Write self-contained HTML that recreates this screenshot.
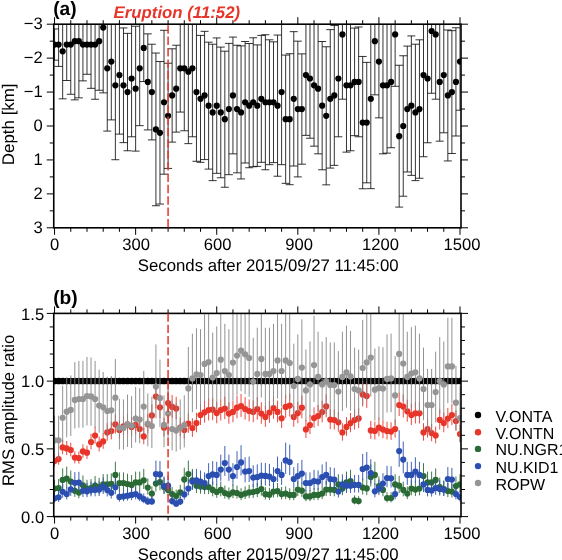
<!DOCTYPE html>
<html lang="en"><head><meta charset="utf-8"><title>Figure</title>
<style>html,body{margin:0;padding:0;background:#fff}svg{display:block}</style></head>
<body>
<svg width="562" height="560" viewBox="0 0 562 560" style="display:block;will-change:transform" font-family="'Liberation Sans', Arial, Helvetica, sans-serif" text-rendering="geometricPrecision">
<rect width="562" height="560" fill="#fff"/>
<defs><clipPath id="cA"><rect x="53.75" y="24.2" width="407.25" height="203.60000000000002"/></clipPath><clipPath id="cB"><rect x="53.75" y="313.4" width="407.25" height="203.20000000000005"/></clipPath></defs>
<g id="panelA">
<g clip-path="url(#cA)" stroke="#000" stroke-width="0.8" fill="none">
<path d="M54.55 28.95V60.17M50.55 60.17h8M50.55 28.95h8"/>
<path d="M58.60 24.20V66.41M54.60 66.41h8"/>
<path d="M62.66 24.20V98.85M58.66 98.85h8"/>
<path d="M66.71 24.20V80.50M62.71 80.50h8"/>
<path d="M70.77 24.20V94.27M66.77 94.27h8"/>
<path d="M74.82 24.20V99.87M70.82 99.87h8"/>
<path d="M78.88 24.20V97.84M74.88 97.84h8"/>
<path d="M82.93 24.20V80.87M78.93 80.87h8"/>
<path d="M86.99 24.20V74.29M82.99 74.29h8"/>
<path d="M91.04 24.20V88.33M87.04 88.33h8"/>
<path d="M95.09 24.20V99.26M91.09 99.26h8"/>
<path d="M99.15 24.20V90.27M95.15 90.27h8"/>
<path d="M103.20 24.20V92.88M99.20 92.88h8"/>
<path d="M107.26 24.20V131.09M103.26 131.09h8"/>
<path d="M111.31 24.20V119.89M107.31 119.89h8"/>
<path d="M115.37 24.20V159.73M111.37 159.73h8"/>
<path d="M119.42 24.20V134.14M115.42 134.14h8"/>
<path d="M123.48 27.93V142.63M119.48 142.63h8M119.48 27.93h8"/>
<path d="M127.53 33.36V150.77M123.53 150.77h8M123.53 33.36h8"/>
<path d="M131.59 24.20V136.79M127.59 136.79h8"/>
<path d="M135.64 26.24V151.11M131.64 151.11h8M131.64 26.24h8"/>
<path d="M139.69 24.20V125.66M135.69 125.66h8"/>
<path d="M143.75 24.20V81.55M139.75 81.55h8"/>
<path d="M147.80 33.87V129.90M143.80 129.90h8M143.80 33.87h8"/>
<path d="M151.86 44.22V139.91M147.86 139.91h8M147.86 44.22h8"/>
<path d="M155.91 53.04V205.74M151.91 205.74h8M151.91 53.04h8"/>
<path d="M159.97 61.53V204.05M155.97 204.05h8M155.97 61.53h8"/>
<path d="M164.02 30.31V174.19M160.02 174.19h8M160.02 30.31h8"/>
<path d="M168.08 63.22V168.42M164.08 168.42h8M164.08 63.22h8"/>
<path d="M172.13 48.80V142.12M168.13 142.12h8M168.13 48.80h8"/>
<path d="M176.19 45.24V132.11M172.19 132.11h8M172.19 45.24h8"/>
<path d="M180.24 24.54V112.09M176.24 112.09h8M176.24 24.54h8"/>
<path d="M184.29 24.20V130.75M180.29 130.75h8"/>
<path d="M188.35 24.20V143.65M184.35 143.65h8"/>
<path d="M192.40 24.20V136.79M188.40 136.79h8"/>
<path d="M196.46 24.20V161.29M192.46 161.29h8"/>
<path d="M200.51 35.40V162.31M196.51 162.31h8M196.51 35.40h8"/>
<path d="M204.57 31.33V159.59M200.57 159.59h8M200.57 31.33h8"/>
<path d="M208.62 42.18V169.10M204.62 169.10h8M204.62 42.18h8"/>
<path d="M212.68 44.22V180.63M208.68 180.63h8M208.68 44.22h8"/>
<path d="M216.73 37.94V173.34M212.73 173.34h8M212.73 37.94h8"/>
<path d="M220.78 47.10V177.75M216.78 177.75h8M216.78 47.10h8"/>
<path d="M224.84 51.18V187.25M220.84 187.25h8M220.84 51.18h8"/>
<path d="M228.89 43.37V174.69M224.89 174.69h8M224.89 43.37h8"/>
<path d="M232.95 37.09V153.83M228.95 153.83h8M228.95 37.09h8"/>
<path d="M237.00 45.24V172.83M233.00 172.83h8M233.00 45.24h8"/>
<path d="M241.06 45.92V178.94M237.06 178.94h8M237.06 45.92h8"/>
<path d="M245.11 41.51V162.99M241.11 162.99h8M241.11 41.51h8"/>
<path d="M249.17 43.54V167.74M245.17 167.74h8M245.17 43.54h8"/>
<path d="M253.22 37.77V166.72M249.22 166.72h8M249.22 37.77h8"/>
<path d="M257.27 44.90V166.38M253.27 166.38h8M253.27 44.90h8"/>
<path d="M261.33 35.40V162.31M257.33 162.31h8M257.33 35.40h8"/>
<path d="M265.38 34.72V169.77M261.38 169.77h8M261.38 34.72h8"/>
<path d="M269.44 39.81V164.68M265.44 164.68h8M265.44 39.81h8"/>
<path d="M273.49 41.85V162.65M269.49 162.65h8M269.49 41.85h8"/>
<path d="M277.55 35.06V176.22M273.55 176.22h8M273.55 35.06h8"/>
<path d="M281.60 24.20V164.68M277.60 164.68h8"/>
<path d="M285.66 55.08V183.35M281.66 183.35h8M281.66 55.08h8"/>
<path d="M289.71 53.72V184.70M285.71 184.70h8M285.71 53.72h8"/>
<path d="M293.77 31.67V166.04M289.77 166.04h8M289.77 31.67h8"/>
<path d="M297.82 41.17V176.90M293.82 176.90h8M293.82 41.17h8"/>
<path d="M301.87 53.89V164.18M297.87 164.18h8M297.87 53.89h8"/>
<path d="M305.93 24.20V135.37M301.93 135.37h8"/>
<path d="M309.98 24.20V138.22M305.98 138.22h8"/>
<path d="M314.04 24.40V146.16M310.04 146.16h8M310.04 24.40h8"/>
<path d="M318.09 24.20V153.83M314.09 153.83h8"/>
<path d="M322.15 41.51V169.77M318.15 169.77h8M318.15 41.51h8"/>
<path d="M326.20 46.77V184.87M322.20 184.87h8M322.20 46.77h8"/>
<path d="M330.26 29.63V168.08M326.26 168.08h8M326.26 29.63h8"/>
<path d="M334.31 25.56V165.36M330.31 165.36h8M330.31 25.56h8"/>
<path d="M338.37 24.20V136.79M334.37 136.79h8"/>
<path d="M342.42 24.20V99.19M338.42 99.19h8"/>
<path d="M346.47 24.20V152.13M342.47 152.13h8"/>
<path d="M350.53 24.20V150.77M346.53 150.77h8"/>
<path d="M354.58 28.10V135.67M350.58 135.67h8M350.58 28.10h8"/>
<path d="M358.64 26.98V136.79M354.64 136.79h8M354.64 26.98h8"/>
<path d="M362.69 56.44V188.78M358.69 188.78h8M358.69 56.44h8"/>
<path d="M366.75 62.38V182.84M362.75 182.84h8M362.75 62.38h8"/>
<path d="M370.80 24.20V188.67M366.80 188.67h8"/>
<path d="M374.86 24.20V94.85M370.86 94.85h8"/>
<path d="M378.91 24.20V117.86M374.91 117.86h8"/>
<path d="M382.96 24.20V153.83M378.96 153.83h8"/>
<path d="M387.02 24.20V153.15M383.02 153.15h8"/>
<path d="M391.07 24.20V147.72M387.07 147.72h8"/>
<path d="M395.13 24.20V86.30M391.13 86.30h8"/>
<path d="M399.18 65.26V207.10M395.18 207.10h8M395.18 65.26h8"/>
<path d="M403.24 55.76V196.24M399.24 196.24h8M399.24 55.76h8"/>
<path d="M407.29 46.09V171.98M403.29 171.98h8M403.29 46.09h8"/>
<path d="M411.35 35.91V175.37M407.35 175.37h8M407.35 35.91h8"/>
<path d="M415.40 44.22V180.63M411.40 180.63h8M411.40 44.22h8"/>
<path d="M419.45 39.81V178.26M415.45 178.26h8M415.45 39.81h8"/>
<path d="M423.51 24.20V156.74M419.51 156.74h8"/>
<path d="M427.56 24.20V142.76M423.56 142.76h8"/>
<path d="M431.62 24.20V93.25M427.62 93.25h8"/>
<path d="M435.67 24.20V99.19M431.67 99.19h8"/>
<path d="M439.73 24.20V141.17M435.73 141.17h8"/>
<path d="M443.78 24.20V132.79M439.78 132.79h8"/>
<path d="M447.84 29.97V160.95M443.84 160.95h8M443.84 29.97h8"/>
<path d="M451.89 30.65V153.49M447.89 153.49h8M447.89 30.65h8"/>
<path d="M455.95 27.76V136.01M451.95 136.01h8M451.95 27.76h8"/>
<path d="M460.00 24.20V110.22M456.00 110.22h8"/>
</g>
<g clip-path="url(#cA)">
<circle cx="54.55" cy="44.56" r="3.1"/>
<circle cx="58.60" cy="44.56" r="3.1"/>
<circle cx="62.66" cy="51.35" r="3.1"/>
<circle cx="66.71" cy="44.56" r="3.1"/>
<circle cx="70.77" cy="44.56" r="3.1"/>
<circle cx="74.82" cy="41.17" r="3.1"/>
<circle cx="78.88" cy="41.17" r="3.1"/>
<circle cx="82.93" cy="44.56" r="3.1"/>
<circle cx="86.99" cy="44.56" r="3.1"/>
<circle cx="91.04" cy="44.56" r="3.1"/>
<circle cx="95.09" cy="44.56" r="3.1"/>
<circle cx="99.15" cy="41.17" r="3.1"/>
<circle cx="103.20" cy="27.59" r="3.1"/>
<circle cx="107.26" cy="68.31" r="3.1"/>
<circle cx="111.31" cy="61.53" r="3.1"/>
<circle cx="115.37" cy="85.28" r="3.1"/>
<circle cx="119.42" cy="75.10" r="3.1"/>
<circle cx="123.48" cy="85.28" r="3.1"/>
<circle cx="127.53" cy="92.07" r="3.1"/>
<circle cx="131.59" cy="78.49" r="3.1"/>
<circle cx="135.64" cy="88.67" r="3.1"/>
<circle cx="139.69" cy="68.31" r="3.1"/>
<circle cx="143.75" cy="47.95" r="3.1"/>
<circle cx="147.80" cy="81.89" r="3.1"/>
<circle cx="151.86" cy="92.07" r="3.1"/>
<circle cx="155.91" cy="129.39" r="3.1"/>
<circle cx="159.97" cy="132.79" r="3.1"/>
<circle cx="164.02" cy="102.25" r="3.1"/>
<circle cx="168.08" cy="115.82" r="3.1"/>
<circle cx="172.13" cy="95.46" r="3.1"/>
<circle cx="176.19" cy="88.67" r="3.1"/>
<circle cx="180.24" cy="68.31" r="3.1"/>
<circle cx="184.29" cy="68.31" r="3.1"/>
<circle cx="188.35" cy="71.71" r="3.1"/>
<circle cx="192.40" cy="68.31" r="3.1"/>
<circle cx="196.46" cy="92.07" r="3.1"/>
<circle cx="200.51" cy="98.85" r="3.1"/>
<circle cx="204.57" cy="95.46" r="3.1"/>
<circle cx="208.62" cy="105.64" r="3.1"/>
<circle cx="212.68" cy="112.43" r="3.1"/>
<circle cx="216.73" cy="105.64" r="3.1"/>
<circle cx="220.78" cy="112.43" r="3.1"/>
<circle cx="224.84" cy="119.21" r="3.1"/>
<circle cx="228.89" cy="109.03" r="3.1"/>
<circle cx="232.95" cy="95.46" r="3.1"/>
<circle cx="237.00" cy="109.03" r="3.1"/>
<circle cx="241.06" cy="112.43" r="3.1"/>
<circle cx="245.11" cy="102.25" r="3.1"/>
<circle cx="249.17" cy="105.64" r="3.1"/>
<circle cx="253.22" cy="102.25" r="3.1"/>
<circle cx="257.27" cy="105.64" r="3.1"/>
<circle cx="261.33" cy="98.85" r="3.1"/>
<circle cx="265.38" cy="102.25" r="3.1"/>
<circle cx="269.44" cy="102.25" r="3.1"/>
<circle cx="273.49" cy="102.25" r="3.1"/>
<circle cx="277.55" cy="105.64" r="3.1"/>
<circle cx="281.60" cy="92.07" r="3.1"/>
<circle cx="285.66" cy="119.21" r="3.1"/>
<circle cx="289.71" cy="119.21" r="3.1"/>
<circle cx="293.77" cy="98.85" r="3.1"/>
<circle cx="297.82" cy="109.03" r="3.1"/>
<circle cx="301.87" cy="109.03" r="3.1"/>
<circle cx="305.93" cy="75.10" r="3.1"/>
<circle cx="309.98" cy="78.49" r="3.1"/>
<circle cx="314.04" cy="85.28" r="3.1"/>
<circle cx="318.09" cy="88.67" r="3.1"/>
<circle cx="322.15" cy="105.64" r="3.1"/>
<circle cx="326.20" cy="115.82" r="3.1"/>
<circle cx="330.26" cy="98.85" r="3.1"/>
<circle cx="334.31" cy="95.46" r="3.1"/>
<circle cx="338.37" cy="78.49" r="3.1"/>
<circle cx="342.42" cy="34.38" r="3.1"/>
<circle cx="346.47" cy="85.28" r="3.1"/>
<circle cx="350.53" cy="85.28" r="3.1"/>
<circle cx="354.58" cy="81.89" r="3.1"/>
<circle cx="358.64" cy="81.89" r="3.1"/>
<circle cx="362.69" cy="122.61" r="3.1"/>
<circle cx="366.75" cy="122.61" r="3.1"/>
<circle cx="370.80" cy="98.85" r="3.1"/>
<circle cx="374.86" cy="41.17" r="3.1"/>
<circle cx="378.91" cy="61.53" r="3.1"/>
<circle cx="382.96" cy="85.28" r="3.1"/>
<circle cx="387.02" cy="85.28" r="3.1"/>
<circle cx="391.07" cy="81.89" r="3.1"/>
<circle cx="395.13" cy="34.38" r="3.1"/>
<circle cx="399.18" cy="136.18" r="3.1"/>
<circle cx="403.24" cy="126.00" r="3.1"/>
<circle cx="407.29" cy="109.03" r="3.1"/>
<circle cx="411.35" cy="105.64" r="3.1"/>
<circle cx="415.40" cy="112.43" r="3.1"/>
<circle cx="419.45" cy="109.03" r="3.1"/>
<circle cx="423.51" cy="75.10" r="3.1"/>
<circle cx="427.56" cy="78.49" r="3.1"/>
<circle cx="431.62" cy="30.99" r="3.1"/>
<circle cx="435.67" cy="34.38" r="3.1"/>
<circle cx="439.73" cy="81.89" r="3.1"/>
<circle cx="443.78" cy="75.10" r="3.1"/>
<circle cx="447.84" cy="95.46" r="3.1"/>
<circle cx="451.89" cy="92.07" r="3.1"/>
<circle cx="455.95" cy="81.89" r="3.1"/>
<circle cx="460.00" cy="61.53" r="3.1"/>
</g>
<path d="M54.55 227.8v7M54.55 24.2v-7" stroke="#000" stroke-width="1"/>
<path d="M70.77 227.8v4.0M70.77 24.2v-4.0" stroke="#000" stroke-width="1"/>
<path d="M86.99 227.8v4.0M86.99 24.2v-4.0" stroke="#000" stroke-width="1"/>
<path d="M103.20 227.8v4.0M103.20 24.2v-4.0" stroke="#000" stroke-width="1"/>
<path d="M119.42 227.8v4.0M119.42 24.2v-4.0" stroke="#000" stroke-width="1"/>
<path d="M135.64 227.8v7M135.64 24.2v-7" stroke="#000" stroke-width="1"/>
<path d="M151.86 227.8v4.0M151.86 24.2v-4.0" stroke="#000" stroke-width="1"/>
<path d="M168.08 227.8v4.0M168.08 24.2v-4.0" stroke="#000" stroke-width="1"/>
<path d="M184.29 227.8v4.0M184.29 24.2v-4.0" stroke="#000" stroke-width="1"/>
<path d="M200.51 227.8v4.0M200.51 24.2v-4.0" stroke="#000" stroke-width="1"/>
<path d="M216.73 227.8v7M216.73 24.2v-7" stroke="#000" stroke-width="1"/>
<path d="M232.95 227.8v4.0M232.95 24.2v-4.0" stroke="#000" stroke-width="1"/>
<path d="M249.17 227.8v4.0M249.17 24.2v-4.0" stroke="#000" stroke-width="1"/>
<path d="M265.38 227.8v4.0M265.38 24.2v-4.0" stroke="#000" stroke-width="1"/>
<path d="M281.60 227.8v4.0M281.60 24.2v-4.0" stroke="#000" stroke-width="1"/>
<path d="M297.82 227.8v7M297.82 24.2v-7" stroke="#000" stroke-width="1"/>
<path d="M314.04 227.8v4.0M314.04 24.2v-4.0" stroke="#000" stroke-width="1"/>
<path d="M330.26 227.8v4.0M330.26 24.2v-4.0" stroke="#000" stroke-width="1"/>
<path d="M346.47 227.8v4.0M346.47 24.2v-4.0" stroke="#000" stroke-width="1"/>
<path d="M362.69 227.8v4.0M362.69 24.2v-4.0" stroke="#000" stroke-width="1"/>
<path d="M378.91 227.8v7M378.91 24.2v-7" stroke="#000" stroke-width="1"/>
<path d="M395.13 227.8v4.0M395.13 24.2v-4.0" stroke="#000" stroke-width="1"/>
<path d="M411.35 227.8v4.0M411.35 24.2v-4.0" stroke="#000" stroke-width="1"/>
<path d="M427.56 227.8v4.0M427.56 24.2v-4.0" stroke="#000" stroke-width="1"/>
<path d="M443.78 227.8v4.0M443.78 24.2v-4.0" stroke="#000" stroke-width="1"/>
<path d="M460.00 227.8v7M460.00 24.2v-7" stroke="#000" stroke-width="1"/>
<path d="M53.75 41.17h-4M461.0 41.17h4" stroke="#000" stroke-width="1"/>
<path d="M53.75 75.10h-4M461.0 75.10h4" stroke="#000" stroke-width="1"/>
<path d="M53.75 109.03h-4M461.0 109.03h4" stroke="#000" stroke-width="1"/>
<path d="M53.75 142.97h-4M461.0 142.97h4" stroke="#000" stroke-width="1"/>
<path d="M53.75 176.90h-4M461.0 176.90h4" stroke="#000" stroke-width="1"/>
<path d="M53.75 210.83h-4M461.0 210.83h4" stroke="#000" stroke-width="1"/>
<path d="M53.75 24.20h-7M461.0 24.20h7" stroke="#000" stroke-width="1"/>
<text x="42.75" y="29.40" font-size="16.6" text-anchor="end">−3</text>
<path d="M53.75 58.13h-7M461.0 58.13h7" stroke="#000" stroke-width="1"/>
<text x="42.75" y="63.33" font-size="16.6" text-anchor="end">−2</text>
<path d="M53.75 92.07h-7M461.0 92.07h7" stroke="#000" stroke-width="1"/>
<text x="42.75" y="97.27" font-size="16.6" text-anchor="end">−1</text>
<path d="M53.75 126.00h-7M461.0 126.00h7" stroke="#000" stroke-width="1"/>
<text x="42.75" y="131.20" font-size="16.6" text-anchor="end">0</text>
<path d="M53.75 159.93h-7M461.0 159.93h7" stroke="#000" stroke-width="1"/>
<text x="42.75" y="165.13" font-size="16.6" text-anchor="end">1</text>
<path d="M53.75 193.87h-7M461.0 193.87h7" stroke="#000" stroke-width="1"/>
<text x="42.75" y="199.07" font-size="16.6" text-anchor="end">2</text>
<path d="M53.75 227.80h-7M461.0 227.80h7" stroke="#000" stroke-width="1"/>
<text x="42.75" y="233.00" font-size="16.6" text-anchor="end">3</text>
<text x="54.60" y="249.80" font-size="16.6" text-anchor="middle">0</text>
<text x="136.09" y="249.80" font-size="16.6" text-anchor="middle">300</text>
<text x="217.59" y="249.80" font-size="16.6" text-anchor="middle">600</text>
<text x="299.08" y="249.80" font-size="16.6" text-anchor="middle">900</text>
<text x="380.58" y="249.80" font-size="16.6" text-anchor="middle">1200</text>
<text x="462.07" y="249.80" font-size="16.6" text-anchor="middle">1500</text>
<rect x="53.75" y="24.2" width="407.25" height="203.60000000000002" fill="none" stroke="#000" stroke-width="1.6"/>
<path d="M168.08 24.2V227.8" stroke="#e8352a" stroke-width="1.5" stroke-dasharray="8.5 2.9" stroke-dashoffset="-1" fill="none"/>
<text x="53.2" y="14.6" font-size="19.2" font-weight="bold">(a)</text>
<text x="113.6" y="17.9" font-size="16.8" font-weight="bold" font-style="italic" fill="#e8352a">Eruption (11:52)</text>
<text x="268.2" y="270.70" font-size="16.8" text-anchor="middle">Seconds after 2015/09/27 11:45:00</text>
<text transform="translate(14.2 124.3) rotate(-90)" font-size="16.9" text-anchor="middle">Depth [km]</text>
</g>
<g id="panelB">
<g clip-path="url(#cB)">
<g fill="#000000" stroke="#000000" stroke-width="0.9">
<circle cx="54.55" cy="381.00" r="3.35" stroke="none"/>
<circle cx="58.60" cy="381.00" r="3.35" stroke="none"/>
<circle cx="62.66" cy="381.00" r="3.35" stroke="none"/>
<circle cx="66.71" cy="381.00" r="3.35" stroke="none"/>
<circle cx="70.77" cy="381.00" r="3.35" stroke="none"/>
<circle cx="74.82" cy="381.00" r="3.35" stroke="none"/>
<circle cx="78.88" cy="381.00" r="3.35" stroke="none"/>
<circle cx="82.93" cy="381.00" r="3.35" stroke="none"/>
<circle cx="86.99" cy="381.00" r="3.35" stroke="none"/>
<circle cx="91.04" cy="381.00" r="3.35" stroke="none"/>
<circle cx="95.09" cy="381.00" r="3.35" stroke="none"/>
<circle cx="99.15" cy="381.00" r="3.35" stroke="none"/>
<circle cx="103.20" cy="381.00" r="3.35" stroke="none"/>
<circle cx="107.26" cy="381.00" r="3.35" stroke="none"/>
<circle cx="111.31" cy="381.00" r="3.35" stroke="none"/>
<circle cx="115.37" cy="381.00" r="3.35" stroke="none"/>
<circle cx="119.42" cy="381.00" r="3.35" stroke="none"/>
<circle cx="123.48" cy="381.00" r="3.35" stroke="none"/>
<circle cx="127.53" cy="381.00" r="3.35" stroke="none"/>
<circle cx="131.59" cy="381.00" r="3.35" stroke="none"/>
<circle cx="135.64" cy="381.00" r="3.35" stroke="none"/>
<circle cx="139.69" cy="381.00" r="3.35" stroke="none"/>
<circle cx="143.75" cy="381.00" r="3.35" stroke="none"/>
<circle cx="147.80" cy="381.00" r="3.35" stroke="none"/>
<circle cx="151.86" cy="381.00" r="3.35" stroke="none"/>
<circle cx="155.91" cy="381.00" r="3.35" stroke="none"/>
<circle cx="159.97" cy="381.00" r="3.35" stroke="none"/>
<circle cx="164.02" cy="381.00" r="3.35" stroke="none"/>
<circle cx="168.08" cy="381.00" r="3.35" stroke="none"/>
<circle cx="172.13" cy="381.00" r="3.35" stroke="none"/>
<circle cx="176.19" cy="381.00" r="3.35" stroke="none"/>
<circle cx="180.24" cy="381.00" r="3.35" stroke="none"/>
<circle cx="184.29" cy="381.00" r="3.35" stroke="none"/>
<circle cx="188.35" cy="381.00" r="3.35" stroke="none"/>
<circle cx="192.40" cy="381.00" r="3.35" stroke="none"/>
<circle cx="196.46" cy="381.00" r="3.35" stroke="none"/>
<circle cx="200.51" cy="381.00" r="3.35" stroke="none"/>
<circle cx="204.57" cy="381.00" r="3.35" stroke="none"/>
<circle cx="208.62" cy="381.00" r="3.35" stroke="none"/>
<circle cx="212.68" cy="381.00" r="3.35" stroke="none"/>
<circle cx="216.73" cy="381.00" r="3.35" stroke="none"/>
<circle cx="220.78" cy="381.00" r="3.35" stroke="none"/>
<circle cx="224.84" cy="381.00" r="3.35" stroke="none"/>
<circle cx="228.89" cy="381.00" r="3.35" stroke="none"/>
<circle cx="232.95" cy="381.00" r="3.35" stroke="none"/>
<circle cx="237.00" cy="381.00" r="3.35" stroke="none"/>
<circle cx="241.06" cy="381.00" r="3.35" stroke="none"/>
<circle cx="245.11" cy="381.00" r="3.35" stroke="none"/>
<circle cx="249.17" cy="381.00" r="3.35" stroke="none"/>
<circle cx="253.22" cy="381.00" r="3.35" stroke="none"/>
<circle cx="257.27" cy="381.00" r="3.35" stroke="none"/>
<circle cx="261.33" cy="381.00" r="3.35" stroke="none"/>
<circle cx="265.38" cy="381.00" r="3.35" stroke="none"/>
<circle cx="269.44" cy="381.00" r="3.35" stroke="none"/>
<circle cx="273.49" cy="381.00" r="3.35" stroke="none"/>
<circle cx="277.55" cy="381.00" r="3.35" stroke="none"/>
<circle cx="281.60" cy="381.00" r="3.35" stroke="none"/>
<circle cx="285.66" cy="381.00" r="3.35" stroke="none"/>
<circle cx="289.71" cy="381.00" r="3.35" stroke="none"/>
<circle cx="293.77" cy="381.00" r="3.35" stroke="none"/>
<circle cx="297.82" cy="381.00" r="3.35" stroke="none"/>
<circle cx="301.87" cy="381.00" r="3.35" stroke="none"/>
<circle cx="305.93" cy="381.00" r="3.35" stroke="none"/>
<circle cx="309.98" cy="381.00" r="3.35" stroke="none"/>
<circle cx="314.04" cy="381.00" r="3.35" stroke="none"/>
<circle cx="318.09" cy="381.00" r="3.35" stroke="none"/>
<circle cx="322.15" cy="381.00" r="3.35" stroke="none"/>
<circle cx="326.20" cy="381.00" r="3.35" stroke="none"/>
<circle cx="330.26" cy="381.00" r="3.35" stroke="none"/>
<circle cx="334.31" cy="381.00" r="3.35" stroke="none"/>
<circle cx="338.37" cy="381.00" r="3.35" stroke="none"/>
<circle cx="342.42" cy="381.00" r="3.35" stroke="none"/>
<circle cx="346.47" cy="381.00" r="3.35" stroke="none"/>
<circle cx="350.53" cy="381.00" r="3.35" stroke="none"/>
<circle cx="354.58" cy="381.00" r="3.35" stroke="none"/>
<circle cx="358.64" cy="381.00" r="3.35" stroke="none"/>
<circle cx="362.69" cy="381.00" r="3.35" stroke="none"/>
<circle cx="366.75" cy="381.00" r="3.35" stroke="none"/>
<circle cx="370.80" cy="381.00" r="3.35" stroke="none"/>
<circle cx="374.86" cy="381.00" r="3.35" stroke="none"/>
<circle cx="378.91" cy="381.00" r="3.35" stroke="none"/>
<circle cx="382.96" cy="381.00" r="3.35" stroke="none"/>
<circle cx="387.02" cy="381.00" r="3.35" stroke="none"/>
<circle cx="391.07" cy="381.00" r="3.35" stroke="none"/>
<circle cx="395.13" cy="381.00" r="3.35" stroke="none"/>
<circle cx="399.18" cy="381.00" r="3.35" stroke="none"/>
<circle cx="403.24" cy="381.00" r="3.35" stroke="none"/>
<circle cx="407.29" cy="381.00" r="3.35" stroke="none"/>
<circle cx="411.35" cy="381.00" r="3.35" stroke="none"/>
<circle cx="415.40" cy="381.00" r="3.35" stroke="none"/>
<circle cx="419.45" cy="381.00" r="3.35" stroke="none"/>
<circle cx="423.51" cy="381.00" r="3.35" stroke="none"/>
<circle cx="427.56" cy="381.00" r="3.35" stroke="none"/>
<circle cx="431.62" cy="381.00" r="3.35" stroke="none"/>
<circle cx="435.67" cy="381.00" r="3.35" stroke="none"/>
<circle cx="439.73" cy="381.00" r="3.35" stroke="none"/>
<circle cx="443.78" cy="381.00" r="3.35" stroke="none"/>
<circle cx="447.84" cy="381.00" r="3.35" stroke="none"/>
<circle cx="451.89" cy="381.00" r="3.35" stroke="none"/>
<circle cx="455.95" cy="381.00" r="3.35" stroke="none"/>
<circle cx="460.00" cy="381.00" r="3.35" stroke="none"/>
</g>
<g fill="#e8352a" stroke="#e8352a" stroke-width="0.9">
<path d="M54.55 454.82V466.38"/>
<path d="M58.60 452.72V464.68"/>
<path d="M62.66 439.81V454.20"/>
<path d="M66.71 440.94V455.12"/>
<path d="M70.77 442.72V456.57"/>
<path d="M74.82 451.16V463.41"/>
<path d="M78.88 451.59V463.76"/>
<path d="M82.93 444.32V457.86"/>
<path d="M86.99 445.67V458.95"/>
<path d="M91.04 433.81V449.33"/>
<path d="M95.09 426.76V443.61"/>
<path d="M99.15 436.51V451.52"/>
<path d="M103.20 433.21V448.84"/>
<path d="M107.26 423.16V440.68"/>
<path d="M111.31 421.65V439.46"/>
<path d="M115.37 414.30V433.50"/>
<path d="M119.42 420.51V438.54"/>
<path d="M123.48 416.55V435.32"/>
<path d="M127.53 414.30V433.50"/>
<path d="M131.59 417.15V435.81"/>
<path d="M135.64 414.90V433.98"/>
<path d="M139.69 419.40V437.64"/>
<path d="M143.75 427.66V444.34"/>
<path d="M147.80 414.15V433.37"/>
<path d="M151.86 404.31V425.38"/>
<path d="M155.91 383.39V408.41"/>
<path d="M159.97 395.39V418.15"/>
<path d="M164.02 417.90V436.42"/>
<path d="M168.08 390.59V414.25"/>
<path d="M172.13 394.94V417.78"/>
<path d="M176.19 396.74V419.25"/>
<path d="M180.24 417.90V436.42"/>
<path d="M184.29 420.51V438.54"/>
<path d="M188.35 413.40V432.77"/>
<path d="M192.40 418.35V436.79"/>
<path d="M196.46 412.80V432.28"/>
<path d="M200.51 403.87V425.03"/>
<path d="M204.57 400.94V422.66"/>
<path d="M208.62 398.32V420.52"/>
<path d="M212.68 397.87V420.16"/>
<path d="M216.73 401.70V423.27"/>
<path d="M220.78 398.32V420.52"/>
<path d="M224.84 396.74V419.25"/>
<path d="M228.89 402.30V423.75"/>
<path d="M232.95 400.49V422.29"/>
<path d="M237.00 395.69V418.39"/>
<path d="M241.06 393.89V416.93"/>
<path d="M245.11 397.19V419.61"/>
<path d="M249.17 399.44V421.44"/>
<path d="M253.22 400.49V422.29"/>
<path d="M257.27 397.19V419.61"/>
<path d="M261.33 402.30V423.75"/>
<path d="M265.38 406.05V426.80"/>
<path d="M269.44 401.09V422.78"/>
<path d="M273.49 396.14V418.76"/>
<path d="M277.55 400.49V422.29"/>
<path d="M281.60 407.55V428.02"/>
<path d="M285.66 394.94V417.78"/>
<path d="M289.71 393.44V416.57"/>
<path d="M293.77 406.05V426.80"/>
<path d="M297.82 401.70V423.27"/>
<path d="M301.87 395.69V418.39"/>
<path d="M305.93 419.85V438.00"/>
<path d="M309.98 414.96V434.03"/>
<path d="M314.04 407.25V427.77"/>
<path d="M318.09 405.00V425.94"/>
<path d="M322.15 400.64V422.41"/>
<path d="M326.20 394.34V417.30"/>
<path d="M330.26 408.97V429.17"/>
<path d="M334.31 409.42V429.54"/>
<path d="M338.37 412.05V431.67"/>
<path d="M342.42 423.16V440.68"/>
<path d="M346.47 417.15V435.81"/>
<path d="M350.53 412.80V432.28"/>
<path d="M354.58 409.42V429.54"/>
<path d="M358.64 407.70V428.14"/>
<path d="M362.69 380.99V406.46"/>
<path d="M366.75 382.79V407.92"/>
<path d="M370.80 420.96V438.90"/>
<path d="M374.86 421.65V439.46"/>
<path d="M378.91 417.90V436.42"/>
<path d="M382.96 420.08V438.19"/>
<path d="M387.02 421.65V439.46"/>
<path d="M391.07 422.25V439.95"/>
<path d="M395.13 419.40V437.64"/>
<path d="M399.18 392.77V416.02"/>
<path d="M403.24 394.54V417.46"/>
<path d="M407.29 399.74V421.68"/>
<path d="M411.35 403.87V425.03"/>
<path d="M415.40 402.00V423.51"/>
<path d="M419.45 402.00V423.51"/>
<path d="M423.51 423.16V440.68"/>
<path d="M427.56 419.40V437.64"/>
<path d="M431.62 423.91V441.29"/>
<path d="M435.67 426.52V443.41"/>
<path d="M439.73 409.35V429.48"/>
<path d="M443.78 412.80V432.28"/>
<path d="M447.84 407.85V428.26"/>
<path d="M451.89 403.87V425.03"/>
<path d="M455.95 410.55V430.45"/>
<path d="M460.00 424.96V442.14"/>
<circle cx="54.55" cy="460.90" r="3.1" stroke="none"/>
<circle cx="58.60" cy="459.01" r="3.1" stroke="none"/>
<circle cx="62.66" cy="447.38" r="3.1" stroke="none"/>
<circle cx="66.71" cy="448.40" r="3.1" stroke="none"/>
<circle cx="70.77" cy="450.01" r="3.1" stroke="none"/>
<circle cx="74.82" cy="457.60" r="3.1" stroke="none"/>
<circle cx="78.88" cy="458.00" r="3.1" stroke="none"/>
<circle cx="82.93" cy="451.44" r="3.1" stroke="none"/>
<circle cx="86.99" cy="452.66" r="3.1" stroke="none"/>
<circle cx="91.04" cy="441.98" r="3.1" stroke="none"/>
<circle cx="95.09" cy="435.62" r="3.1" stroke="none"/>
<circle cx="99.15" cy="444.41" r="3.1" stroke="none"/>
<circle cx="103.20" cy="441.43" r="3.1" stroke="none"/>
<circle cx="107.26" cy="432.38" r="3.1" stroke="none"/>
<circle cx="111.31" cy="431.02" r="3.1" stroke="none"/>
<circle cx="115.37" cy="424.40" r="3.1" stroke="none"/>
<circle cx="119.42" cy="430.00" r="3.1" stroke="none"/>
<circle cx="123.48" cy="426.43" r="3.1" stroke="none"/>
<circle cx="127.53" cy="424.40" r="3.1" stroke="none"/>
<circle cx="131.59" cy="426.97" r="3.1" stroke="none"/>
<circle cx="135.64" cy="424.94" r="3.1" stroke="none"/>
<circle cx="139.69" cy="429.00" r="3.1" stroke="none"/>
<circle cx="143.75" cy="436.43" r="3.1" stroke="none"/>
<circle cx="147.80" cy="424.26" r="3.1" stroke="none"/>
<circle cx="151.86" cy="415.39" r="3.1" stroke="none"/>
<circle cx="155.91" cy="396.55" r="3.1" stroke="none"/>
<circle cx="159.97" cy="407.36" r="3.1" stroke="none"/>
<circle cx="164.02" cy="427.64" r="3.1" stroke="none"/>
<circle cx="168.08" cy="403.04" r="3.1" stroke="none"/>
<circle cx="172.13" cy="406.96" r="3.1" stroke="none"/>
<circle cx="176.19" cy="408.58" r="3.1" stroke="none"/>
<circle cx="180.24" cy="427.64" r="3.1" stroke="none"/>
<circle cx="184.29" cy="430.00" r="3.1" stroke="none"/>
<circle cx="188.35" cy="423.59" r="3.1" stroke="none"/>
<circle cx="192.40" cy="428.05" r="3.1" stroke="none"/>
<circle cx="196.46" cy="423.05" r="3.1" stroke="none"/>
<circle cx="200.51" cy="415.00" r="3.1" stroke="none"/>
<circle cx="204.57" cy="412.37" r="3.1" stroke="none"/>
<circle cx="208.62" cy="410.00" r="3.1" stroke="none"/>
<circle cx="212.68" cy="409.59" r="3.1" stroke="none"/>
<circle cx="216.73" cy="413.04" r="3.1" stroke="none"/>
<circle cx="220.78" cy="410.00" r="3.1" stroke="none"/>
<circle cx="224.84" cy="408.58" r="3.1" stroke="none"/>
<circle cx="228.89" cy="413.58" r="3.1" stroke="none"/>
<circle cx="232.95" cy="411.96" r="3.1" stroke="none"/>
<circle cx="237.00" cy="407.63" r="3.1" stroke="none"/>
<circle cx="241.06" cy="406.01" r="3.1" stroke="none"/>
<circle cx="245.11" cy="408.99" r="3.1" stroke="none"/>
<circle cx="249.17" cy="411.01" r="3.1" stroke="none"/>
<circle cx="253.22" cy="411.96" r="3.1" stroke="none"/>
<circle cx="257.27" cy="408.99" r="3.1" stroke="none"/>
<circle cx="261.33" cy="413.58" r="3.1" stroke="none"/>
<circle cx="265.38" cy="416.96" r="3.1" stroke="none"/>
<circle cx="269.44" cy="412.50" r="3.1" stroke="none"/>
<circle cx="273.49" cy="408.04" r="3.1" stroke="none"/>
<circle cx="277.55" cy="411.96" r="3.1" stroke="none"/>
<circle cx="281.60" cy="418.32" r="3.1" stroke="none"/>
<circle cx="285.66" cy="406.96" r="3.1" stroke="none"/>
<circle cx="289.71" cy="405.61" r="3.1" stroke="none"/>
<circle cx="293.77" cy="416.96" r="3.1" stroke="none"/>
<circle cx="297.82" cy="413.04" r="3.1" stroke="none"/>
<circle cx="301.87" cy="407.63" r="3.1" stroke="none"/>
<circle cx="305.93" cy="429.40" r="3.1" stroke="none"/>
<circle cx="309.98" cy="424.99" r="3.1" stroke="none"/>
<circle cx="314.04" cy="418.04" r="3.1" stroke="none"/>
<circle cx="318.09" cy="416.02" r="3.1" stroke="none"/>
<circle cx="322.15" cy="412.10" r="3.1" stroke="none"/>
<circle cx="326.20" cy="406.42" r="3.1" stroke="none"/>
<circle cx="330.26" cy="419.60" r="3.1" stroke="none"/>
<circle cx="334.31" cy="420.01" r="3.1" stroke="none"/>
<circle cx="338.37" cy="422.37" r="3.1" stroke="none"/>
<circle cx="342.42" cy="432.38" r="3.1" stroke="none"/>
<circle cx="346.47" cy="426.97" r="3.1" stroke="none"/>
<circle cx="350.53" cy="423.05" r="3.1" stroke="none"/>
<circle cx="354.58" cy="420.01" r="3.1" stroke="none"/>
<circle cx="358.64" cy="418.45" r="3.1" stroke="none"/>
<circle cx="362.69" cy="394.38" r="3.1" stroke="none"/>
<circle cx="366.75" cy="396.01" r="3.1" stroke="none"/>
<circle cx="370.80" cy="430.40" r="3.1" stroke="none"/>
<circle cx="374.86" cy="431.02" r="3.1" stroke="none"/>
<circle cx="378.91" cy="427.64" r="3.1" stroke="none"/>
<circle cx="382.96" cy="429.60" r="3.1" stroke="none"/>
<circle cx="387.02" cy="431.02" r="3.1" stroke="none"/>
<circle cx="391.07" cy="431.56" r="3.1" stroke="none"/>
<circle cx="395.13" cy="429.00" r="3.1" stroke="none"/>
<circle cx="399.18" cy="405.00" r="3.1" stroke="none"/>
<circle cx="403.24" cy="406.59" r="3.1" stroke="none"/>
<circle cx="407.29" cy="411.28" r="3.1" stroke="none"/>
<circle cx="411.35" cy="415.00" r="3.1" stroke="none"/>
<circle cx="415.40" cy="413.31" r="3.1" stroke="none"/>
<circle cx="419.45" cy="413.31" r="3.1" stroke="none"/>
<circle cx="423.51" cy="432.38" r="3.1" stroke="none"/>
<circle cx="427.56" cy="429.00" r="3.1" stroke="none"/>
<circle cx="431.62" cy="433.05" r="3.1" stroke="none"/>
<circle cx="435.67" cy="435.40" r="3.1" stroke="none"/>
<circle cx="439.73" cy="419.94" r="3.1" stroke="none"/>
<circle cx="443.78" cy="423.05" r="3.1" stroke="none"/>
<circle cx="447.84" cy="418.59" r="3.1" stroke="none"/>
<circle cx="451.89" cy="415.00" r="3.1" stroke="none"/>
<circle cx="455.95" cy="421.02" r="3.1" stroke="none"/>
<circle cx="460.00" cy="434.00" r="3.1" stroke="none"/>
</g>
<g fill="#2a6a35" stroke="#2a6a35" stroke-width="0.9">
<path d="M54.55 479.79V495.31"/>
<path d="M58.60 479.08V494.90"/>
<path d="M62.66 468.37V488.75"/>
<path d="M66.71 466.59V487.73"/>
<path d="M70.77 470.51V489.98"/>
<path d="M74.82 482.65V496.94"/>
<path d="M78.88 484.97V498.28"/>
<path d="M82.93 475.51V492.85"/>
<path d="M86.99 479.79V495.31"/>
<path d="M91.04 479.08V494.90"/>
<path d="M95.09 475.96V493.10"/>
<path d="M99.15 477.83V494.18"/>
<path d="M103.20 474.08V492.03"/>
<path d="M107.26 474.08V492.03"/>
<path d="M111.31 473.37V491.62"/>
<path d="M115.37 461.77V484.96"/>
<path d="M119.42 472.39V491.05"/>
<path d="M123.48 472.39V491.05"/>
<path d="M127.53 473.73V491.82"/>
<path d="M131.59 474.97V492.54"/>
<path d="M135.64 471.58V490.59"/>
<path d="M139.69 471.58V490.59"/>
<path d="M143.75 468.91V489.06"/>
<path d="M147.80 478.45V494.54"/>
<path d="M151.86 486.40V499.10"/>
<path d="M155.91 473.19V491.52"/>
<path d="M159.97 471.05V490.29"/>
<path d="M164.02 477.65V494.08"/>
<path d="M168.08 481.58V496.33"/>
<path d="M172.13 486.93V499.40"/>
<path d="M176.19 489.61V500.94"/>
<path d="M180.24 484.79V498.17"/>
<path d="M184.29 467.66V488.34"/>
<path d="M188.35 460.52V484.24"/>
<path d="M192.40 468.91V489.06"/>
<path d="M196.46 475.87V493.05"/>
<path d="M200.51 476.94V493.67"/>
<path d="M204.57 477.65V494.08"/>
<path d="M208.62 477.65V494.08"/>
<path d="M212.68 481.58V496.33"/>
<path d="M216.73 484.25V497.87"/>
<path d="M220.78 481.58V496.33"/>
<path d="M224.84 485.58V498.62"/>
<path d="M228.89 487.47V499.71"/>
<path d="M232.95 484.79V498.17"/>
<path d="M237.00 485.58V498.62"/>
<path d="M241.06 488.18V500.12"/>
<path d="M245.11 486.40V499.10"/>
<path d="M249.17 484.79V498.17"/>
<path d="M253.22 484.25V497.87"/>
<path d="M257.27 483.01V497.15"/>
<path d="M261.33 480.33V495.61"/>
<path d="M265.38 487.11V499.50"/>
<path d="M269.44 487.82V499.91"/>
<path d="M273.49 483.72V497.56"/>
<path d="M277.55 483.01V497.15"/>
<path d="M281.60 486.93V499.40"/>
<path d="M285.66 486.40V499.10"/>
<path d="M289.71 488.18V500.12"/>
<path d="M293.77 488.18V500.12"/>
<path d="M297.82 481.04V496.02"/>
<path d="M301.87 482.47V496.84"/>
<path d="M305.93 490.06V501.19"/>
<path d="M309.98 490.06V501.19"/>
<path d="M314.04 488.18V500.12"/>
<path d="M318.09 488.18V500.12"/>
<path d="M322.15 486.40V499.10"/>
<path d="M326.20 481.04V496.02"/>
<path d="M330.26 481.04V496.02"/>
<path d="M334.31 481.58V496.33"/>
<path d="M338.37 474.26V492.13"/>
<path d="M342.42 479.51V495.14"/>
<path d="M346.47 471.58V490.59"/>
<path d="M350.53 469.80V489.57"/>
<path d="M354.58 495.32V504.22"/>
<path d="M358.64 496.14V504.69"/>
<path d="M362.69 478.45V494.54"/>
<path d="M366.75 479.51V495.14"/>
<path d="M370.80 464.45V486.50"/>
<path d="M374.86 461.77V484.96"/>
<path d="M378.91 476.40V493.36"/>
<path d="M382.96 481.58V496.33"/>
<path d="M387.02 492.18V502.41"/>
<path d="M391.07 492.18V502.41"/>
<path d="M395.13 474.26V492.13"/>
<path d="M399.18 475.87V493.05"/>
<path d="M403.24 481.58V496.33"/>
<path d="M407.29 486.40V499.10"/>
<path d="M411.35 479.79V495.31"/>
<path d="M415.40 481.04V496.02"/>
<path d="M419.45 479.79V495.31"/>
<path d="M423.51 463.20V485.78"/>
<path d="M427.56 471.58V490.59"/>
<path d="M431.62 471.58V490.59"/>
<path d="M435.67 468.37V488.75"/>
<path d="M439.73 477.65V494.08"/>
<path d="M443.78 480.51V495.72"/>
<path d="M447.84 483.01V497.15"/>
<path d="M451.89 483.72V497.56"/>
<path d="M455.95 476.40V493.36"/>
<path d="M460.00 474.26V492.13"/>
<circle cx="54.55" cy="488.62" r="3.1" stroke="none"/>
<circle cx="58.60" cy="488.08" r="3.1" stroke="none"/>
<circle cx="62.66" cy="479.97" r="3.1" stroke="none"/>
<circle cx="66.71" cy="478.61" r="3.1" stroke="none"/>
<circle cx="70.77" cy="481.59" r="3.1" stroke="none"/>
<circle cx="74.82" cy="490.78" r="3.1" stroke="none"/>
<circle cx="78.88" cy="492.54" r="3.1" stroke="none"/>
<circle cx="82.93" cy="485.37" r="3.1" stroke="none"/>
<circle cx="86.99" cy="488.62" r="3.1" stroke="none"/>
<circle cx="91.04" cy="488.08" r="3.1" stroke="none"/>
<circle cx="95.09" cy="485.71" r="3.1" stroke="none"/>
<circle cx="99.15" cy="487.13" r="3.1" stroke="none"/>
<circle cx="103.20" cy="484.29" r="3.1" stroke="none"/>
<circle cx="107.26" cy="484.29" r="3.1" stroke="none"/>
<circle cx="111.31" cy="483.75" r="3.1" stroke="none"/>
<circle cx="115.37" cy="474.96" r="3.1" stroke="none"/>
<circle cx="119.42" cy="483.01" r="3.1" stroke="none"/>
<circle cx="123.48" cy="483.01" r="3.1" stroke="none"/>
<circle cx="127.53" cy="484.02" r="3.1" stroke="none"/>
<circle cx="131.59" cy="484.97" r="3.1" stroke="none"/>
<circle cx="135.64" cy="482.40" r="3.1" stroke="none"/>
<circle cx="139.69" cy="482.40" r="3.1" stroke="none"/>
<circle cx="143.75" cy="480.37" r="3.1" stroke="none"/>
<circle cx="147.80" cy="487.61" r="3.1" stroke="none"/>
<circle cx="151.86" cy="493.62" r="3.1" stroke="none"/>
<circle cx="155.91" cy="483.62" r="3.1" stroke="none"/>
<circle cx="159.97" cy="481.99" r="3.1" stroke="none"/>
<circle cx="164.02" cy="487.00" r="3.1" stroke="none"/>
<circle cx="168.08" cy="489.97" r="3.1" stroke="none"/>
<circle cx="172.13" cy="494.03" r="3.1" stroke="none"/>
<circle cx="176.19" cy="496.06" r="3.1" stroke="none"/>
<circle cx="180.24" cy="492.40" r="3.1" stroke="none"/>
<circle cx="184.29" cy="479.43" r="3.1" stroke="none"/>
<circle cx="188.35" cy="474.02" r="3.1" stroke="none"/>
<circle cx="192.40" cy="480.37" r="3.1" stroke="none"/>
<circle cx="196.46" cy="485.64" r="3.1" stroke="none"/>
<circle cx="200.51" cy="486.46" r="3.1" stroke="none"/>
<circle cx="204.57" cy="487.00" r="3.1" stroke="none"/>
<circle cx="208.62" cy="487.00" r="3.1" stroke="none"/>
<circle cx="212.68" cy="489.97" r="3.1" stroke="none"/>
<circle cx="216.73" cy="492.00" r="3.1" stroke="none"/>
<circle cx="220.78" cy="489.97" r="3.1" stroke="none"/>
<circle cx="224.84" cy="493.00" r="3.1" stroke="none"/>
<circle cx="228.89" cy="494.43" r="3.1" stroke="none"/>
<circle cx="232.95" cy="492.40" r="3.1" stroke="none"/>
<circle cx="237.00" cy="493.00" r="3.1" stroke="none"/>
<circle cx="241.06" cy="494.97" r="3.1" stroke="none"/>
<circle cx="245.11" cy="493.62" r="3.1" stroke="none"/>
<circle cx="249.17" cy="492.40" r="3.1" stroke="none"/>
<circle cx="253.22" cy="492.00" r="3.1" stroke="none"/>
<circle cx="257.27" cy="491.05" r="3.1" stroke="none"/>
<circle cx="261.33" cy="489.02" r="3.1" stroke="none"/>
<circle cx="265.38" cy="494.16" r="3.1" stroke="none"/>
<circle cx="269.44" cy="494.70" r="3.1" stroke="none"/>
<circle cx="273.49" cy="491.59" r="3.1" stroke="none"/>
<circle cx="277.55" cy="491.05" r="3.1" stroke="none"/>
<circle cx="281.60" cy="494.03" r="3.1" stroke="none"/>
<circle cx="285.66" cy="493.62" r="3.1" stroke="none"/>
<circle cx="289.71" cy="494.97" r="3.1" stroke="none"/>
<circle cx="293.77" cy="494.97" r="3.1" stroke="none"/>
<circle cx="297.82" cy="489.57" r="3.1" stroke="none"/>
<circle cx="301.87" cy="490.65" r="3.1" stroke="none"/>
<circle cx="305.93" cy="496.39" r="3.1" stroke="none"/>
<circle cx="309.98" cy="496.39" r="3.1" stroke="none"/>
<circle cx="314.04" cy="494.97" r="3.1" stroke="none"/>
<circle cx="318.09" cy="494.97" r="3.1" stroke="none"/>
<circle cx="322.15" cy="493.62" r="3.1" stroke="none"/>
<circle cx="326.20" cy="489.57" r="3.1" stroke="none"/>
<circle cx="330.26" cy="489.57" r="3.1" stroke="none"/>
<circle cx="334.31" cy="489.97" r="3.1" stroke="none"/>
<circle cx="338.37" cy="484.43" r="3.1" stroke="none"/>
<circle cx="342.42" cy="488.40" r="3.1" stroke="none"/>
<circle cx="346.47" cy="482.40" r="3.1" stroke="none"/>
<circle cx="350.53" cy="481.05" r="3.1" stroke="none"/>
<circle cx="354.58" cy="500.38" r="3.1" stroke="none"/>
<circle cx="358.64" cy="501.00" r="3.1" stroke="none"/>
<circle cx="362.69" cy="487.61" r="3.1" stroke="none"/>
<circle cx="366.75" cy="488.40" r="3.1" stroke="none"/>
<circle cx="370.80" cy="476.99" r="3.1" stroke="none"/>
<circle cx="374.86" cy="474.96" r="3.1" stroke="none"/>
<circle cx="378.91" cy="486.05" r="3.1" stroke="none"/>
<circle cx="382.96" cy="489.97" r="3.1" stroke="none"/>
<circle cx="387.02" cy="498.00" r="3.1" stroke="none"/>
<circle cx="391.07" cy="498.00" r="3.1" stroke="none"/>
<circle cx="395.13" cy="484.43" r="3.1" stroke="none"/>
<circle cx="399.18" cy="485.64" r="3.1" stroke="none"/>
<circle cx="403.24" cy="489.97" r="3.1" stroke="none"/>
<circle cx="407.29" cy="493.62" r="3.1" stroke="none"/>
<circle cx="411.35" cy="488.62" r="3.1" stroke="none"/>
<circle cx="415.40" cy="489.57" r="3.1" stroke="none"/>
<circle cx="419.45" cy="488.62" r="3.1" stroke="none"/>
<circle cx="423.51" cy="476.05" r="3.1" stroke="none"/>
<circle cx="427.56" cy="482.40" r="3.1" stroke="none"/>
<circle cx="431.62" cy="482.40" r="3.1" stroke="none"/>
<circle cx="435.67" cy="479.97" r="3.1" stroke="none"/>
<circle cx="439.73" cy="487.00" r="3.1" stroke="none"/>
<circle cx="443.78" cy="489.16" r="3.1" stroke="none"/>
<circle cx="447.84" cy="491.05" r="3.1" stroke="none"/>
<circle cx="451.89" cy="491.59" r="3.1" stroke="none"/>
<circle cx="455.95" cy="486.05" r="3.1" stroke="none"/>
<circle cx="460.00" cy="484.43" r="3.1" stroke="none"/>
</g>
<g fill="#2b4fb0" stroke="#2b4fb0" stroke-width="0.9">
<path d="M54.55 492.64V502.68"/>
<path d="M58.60 491.22V501.86"/>
<path d="M62.66 483.90V497.66"/>
<path d="M66.71 486.93V499.40"/>
<path d="M70.77 480.86V495.92"/>
<path d="M74.82 472.12V490.90"/>
<path d="M78.88 471.85V490.75"/>
<path d="M82.93 482.74V497.00"/>
<path d="M86.99 483.18V497.25"/>
<path d="M91.04 481.76V496.43"/>
<path d="M95.09 481.58V496.33"/>
<path d="M99.15 481.04V496.02"/>
<path d="M103.20 477.56V494.03"/>
<path d="M107.26 481.76V496.43"/>
<path d="M111.31 485.33V498.48"/>
<path d="M115.37 478.01V494.28"/>
<path d="M119.42 490.77V501.60"/>
<path d="M123.48 490.06V501.19"/>
<path d="M127.53 489.07V500.63"/>
<path d="M131.59 488.18V500.12"/>
<path d="M135.64 486.93V499.40"/>
<path d="M139.69 490.06V501.19"/>
<path d="M143.75 493.54V503.19"/>
<path d="M147.80 496.66V504.98"/>
<path d="M151.86 496.66V504.98"/>
<path d="M155.91 460.52V484.24"/>
<path d="M159.97 461.05V484.55"/>
<path d="M164.02 476.40V493.36"/>
<path d="M168.08 475.87V493.05"/>
<path d="M172.13 496.21V504.73"/>
<path d="M176.19 499.60V506.67"/>
<path d="M180.24 496.93V505.14"/>
<path d="M184.29 487.47V499.71"/>
<path d="M188.35 479.79V495.31"/>
<path d="M192.40 470.51V489.98"/>
<path d="M196.46 468.91V489.06"/>
<path d="M200.51 470.51V489.98"/>
<path d="M204.57 472.37V491.04"/>
<path d="M208.62 463.20V485.78"/>
<path d="M212.68 461.05V484.55"/>
<path d="M216.73 461.77V484.96"/>
<path d="M220.78 454.63V480.86"/>
<path d="M224.84 445.97V475.90"/>
<path d="M228.89 454.63V480.86"/>
<path d="M232.95 463.20V485.78"/>
<path d="M237.00 451.24V478.92"/>
<path d="M241.06 445.17V475.44"/>
<path d="M245.11 457.31V482.40"/>
<path d="M249.17 456.59V481.99"/>
<path d="M253.22 465.25V486.96"/>
<path d="M257.27 464.45V486.50"/>
<path d="M261.33 462.66V485.47"/>
<path d="M265.38 463.02V485.68"/>
<path d="M269.44 463.91V486.19"/>
<path d="M273.49 467.12V488.03"/>
<path d="M277.55 456.59V481.99"/>
<path d="M281.60 461.77V484.96"/>
<path d="M285.66 442.55V473.93"/>
<path d="M289.71 444.64V475.13"/>
<path d="M293.77 467.12V488.03"/>
<path d="M297.82 463.20V485.78"/>
<path d="M301.87 459.98V483.94"/>
<path d="M305.93 472.37V491.04"/>
<path d="M309.98 472.37V491.04"/>
<path d="M314.04 469.80V489.57"/>
<path d="M318.09 470.51V489.98"/>
<path d="M322.15 464.45V486.50"/>
<path d="M326.20 461.77V484.96"/>
<path d="M330.26 467.12V488.03"/>
<path d="M334.31 467.89V488.47"/>
<path d="M338.37 483.72V497.56"/>
<path d="M342.42 474.26V492.13"/>
<path d="M346.47 475.87V493.05"/>
<path d="M350.53 475.87V493.05"/>
<path d="M354.58 474.97V492.54"/>
<path d="M358.64 474.97V492.54"/>
<path d="M362.69 453.92V480.45"/>
<path d="M366.75 452.04V479.38"/>
<path d="M370.80 459.18V483.48"/>
<path d="M374.86 483.36V497.35"/>
<path d="M378.91 479.51V495.14"/>
<path d="M382.96 473.19V491.52"/>
<path d="M387.02 465.78V487.27"/>
<path d="M391.07 466.23V487.52"/>
<path d="M395.13 486.93V499.40"/>
<path d="M399.18 430.18V466.83"/>
<path d="M403.24 441.49V473.33"/>
<path d="M407.29 461.77V484.96"/>
<path d="M411.35 461.77V484.96"/>
<path d="M415.40 457.31V482.40"/>
<path d="M419.45 461.77V484.96"/>
<path d="M423.51 474.26V492.13"/>
<path d="M427.56 481.58V496.33"/>
<path d="M431.62 482.11V496.64"/>
<path d="M435.67 478.97V494.83"/>
<path d="M439.73 480.33V495.61"/>
<path d="M443.78 481.04V496.02"/>
<path d="M447.84 467.12V488.03"/>
<path d="M451.89 467.89V488.47"/>
<path d="M455.95 486.93V499.40"/>
<path d="M460.00 490.86V501.66"/>
<circle cx="54.55" cy="498.35" r="3.1" stroke="none"/>
<circle cx="58.60" cy="497.27" r="3.1" stroke="none"/>
<circle cx="62.66" cy="491.73" r="3.1" stroke="none"/>
<circle cx="66.71" cy="494.03" r="3.1" stroke="none"/>
<circle cx="70.77" cy="489.43" r="3.1" stroke="none"/>
<circle cx="74.82" cy="482.81" r="3.1" stroke="none"/>
<circle cx="78.88" cy="482.60" r="3.1" stroke="none"/>
<circle cx="82.93" cy="490.85" r="3.1" stroke="none"/>
<circle cx="86.99" cy="491.19" r="3.1" stroke="none"/>
<circle cx="91.04" cy="490.11" r="3.1" stroke="none"/>
<circle cx="95.09" cy="489.97" r="3.1" stroke="none"/>
<circle cx="99.15" cy="489.57" r="3.1" stroke="none"/>
<circle cx="103.20" cy="486.93" r="3.1" stroke="none"/>
<circle cx="107.26" cy="490.11" r="3.1" stroke="none"/>
<circle cx="111.31" cy="492.81" r="3.1" stroke="none"/>
<circle cx="115.37" cy="487.27" r="3.1" stroke="none"/>
<circle cx="119.42" cy="496.93" r="3.1" stroke="none"/>
<circle cx="123.48" cy="496.39" r="3.1" stroke="none"/>
<circle cx="127.53" cy="495.65" r="3.1" stroke="none"/>
<circle cx="131.59" cy="494.97" r="3.1" stroke="none"/>
<circle cx="135.64" cy="494.03" r="3.1" stroke="none"/>
<circle cx="139.69" cy="496.39" r="3.1" stroke="none"/>
<circle cx="143.75" cy="499.03" r="3.1" stroke="none"/>
<circle cx="147.80" cy="501.40" r="3.1" stroke="none"/>
<circle cx="151.86" cy="501.40" r="3.1" stroke="none"/>
<circle cx="155.91" cy="474.02" r="3.1" stroke="none"/>
<circle cx="159.97" cy="474.42" r="3.1" stroke="none"/>
<circle cx="164.02" cy="486.05" r="3.1" stroke="none"/>
<circle cx="168.08" cy="485.64" r="3.1" stroke="none"/>
<circle cx="172.13" cy="501.06" r="3.1" stroke="none"/>
<circle cx="176.19" cy="503.63" r="3.1" stroke="none"/>
<circle cx="180.24" cy="501.60" r="3.1" stroke="none"/>
<circle cx="184.29" cy="494.43" r="3.1" stroke="none"/>
<circle cx="188.35" cy="488.62" r="3.1" stroke="none"/>
<circle cx="192.40" cy="481.59" r="3.1" stroke="none"/>
<circle cx="196.46" cy="480.37" r="3.1" stroke="none"/>
<circle cx="200.51" cy="481.59" r="3.1" stroke="none"/>
<circle cx="204.57" cy="482.99" r="3.1" stroke="none"/>
<circle cx="208.62" cy="476.05" r="3.1" stroke="none"/>
<circle cx="212.68" cy="474.42" r="3.1" stroke="none"/>
<circle cx="216.73" cy="474.96" r="3.1" stroke="none"/>
<circle cx="220.78" cy="469.56" r="3.1" stroke="none"/>
<circle cx="224.84" cy="463.00" r="3.1" stroke="none"/>
<circle cx="228.89" cy="469.56" r="3.1" stroke="none"/>
<circle cx="232.95" cy="476.05" r="3.1" stroke="none"/>
<circle cx="237.00" cy="466.99" r="3.1" stroke="none"/>
<circle cx="241.06" cy="462.39" r="3.1" stroke="none"/>
<circle cx="245.11" cy="471.58" r="3.1" stroke="none"/>
<circle cx="249.17" cy="471.04" r="3.1" stroke="none"/>
<circle cx="253.22" cy="477.60" r="3.1" stroke="none"/>
<circle cx="257.27" cy="476.99" r="3.1" stroke="none"/>
<circle cx="261.33" cy="475.64" r="3.1" stroke="none"/>
<circle cx="265.38" cy="475.91" r="3.1" stroke="none"/>
<circle cx="269.44" cy="476.59" r="3.1" stroke="none"/>
<circle cx="273.49" cy="479.02" r="3.1" stroke="none"/>
<circle cx="277.55" cy="471.04" r="3.1" stroke="none"/>
<circle cx="281.60" cy="474.96" r="3.1" stroke="none"/>
<circle cx="285.66" cy="460.40" r="3.1" stroke="none"/>
<circle cx="289.71" cy="461.98" r="3.1" stroke="none"/>
<circle cx="293.77" cy="479.02" r="3.1" stroke="none"/>
<circle cx="297.82" cy="476.05" r="3.1" stroke="none"/>
<circle cx="301.87" cy="473.61" r="3.1" stroke="none"/>
<circle cx="305.93" cy="482.99" r="3.1" stroke="none"/>
<circle cx="309.98" cy="482.99" r="3.1" stroke="none"/>
<circle cx="314.04" cy="481.05" r="3.1" stroke="none"/>
<circle cx="318.09" cy="481.59" r="3.1" stroke="none"/>
<circle cx="322.15" cy="476.99" r="3.1" stroke="none"/>
<circle cx="326.20" cy="474.96" r="3.1" stroke="none"/>
<circle cx="330.26" cy="479.02" r="3.1" stroke="none"/>
<circle cx="334.31" cy="479.60" r="3.1" stroke="none"/>
<circle cx="338.37" cy="491.59" r="3.1" stroke="none"/>
<circle cx="342.42" cy="484.43" r="3.1" stroke="none"/>
<circle cx="346.47" cy="485.64" r="3.1" stroke="none"/>
<circle cx="350.53" cy="485.64" r="3.1" stroke="none"/>
<circle cx="354.58" cy="484.97" r="3.1" stroke="none"/>
<circle cx="358.64" cy="484.97" r="3.1" stroke="none"/>
<circle cx="362.69" cy="469.02" r="3.1" stroke="none"/>
<circle cx="366.75" cy="467.60" r="3.1" stroke="none"/>
<circle cx="370.80" cy="473.00" r="3.1" stroke="none"/>
<circle cx="374.86" cy="491.32" r="3.1" stroke="none"/>
<circle cx="378.91" cy="488.40" r="3.1" stroke="none"/>
<circle cx="382.96" cy="483.62" r="3.1" stroke="none"/>
<circle cx="387.02" cy="478.01" r="3.1" stroke="none"/>
<circle cx="391.07" cy="478.34" r="3.1" stroke="none"/>
<circle cx="395.13" cy="494.03" r="3.1" stroke="none"/>
<circle cx="399.18" cy="451.03" r="3.1" stroke="none"/>
<circle cx="403.24" cy="459.61" r="3.1" stroke="none"/>
<circle cx="407.29" cy="474.96" r="3.1" stroke="none"/>
<circle cx="411.35" cy="474.96" r="3.1" stroke="none"/>
<circle cx="415.40" cy="471.58" r="3.1" stroke="none"/>
<circle cx="419.45" cy="474.96" r="3.1" stroke="none"/>
<circle cx="423.51" cy="484.43" r="3.1" stroke="none"/>
<circle cx="427.56" cy="489.97" r="3.1" stroke="none"/>
<circle cx="431.62" cy="490.38" r="3.1" stroke="none"/>
<circle cx="435.67" cy="488.00" r="3.1" stroke="none"/>
<circle cx="439.73" cy="489.02" r="3.1" stroke="none"/>
<circle cx="443.78" cy="489.57" r="3.1" stroke="none"/>
<circle cx="447.84" cy="479.02" r="3.1" stroke="none"/>
<circle cx="451.89" cy="479.60" r="3.1" stroke="none"/>
<circle cx="455.95" cy="494.03" r="3.1" stroke="none"/>
<circle cx="460.00" cy="497.00" r="3.1" stroke="none"/>
</g>
<g fill="#959595" stroke="#868686" stroke-width="0.9">
<path d="M54.55 415.70V458.96"/>
<path d="M58.60 415.70V458.96"/>
<path d="M62.66 385.79V441.92"/>
<path d="M66.71 377.72V437.32"/>
<path d="M70.77 375.40V436.00"/>
<path d="M74.82 362.14V428.45"/>
<path d="M78.88 360.89V427.73"/>
<path d="M82.93 360.89V427.73"/>
<path d="M86.99 356.94V425.49"/>
<path d="M91.04 357.48V425.79"/>
<path d="M95.09 360.89V427.73"/>
<path d="M99.15 369.66V432.73"/>
<path d="M103.20 371.99V434.06"/>
<path d="M107.26 376.83V436.81"/>
<path d="M111.31 375.93V436.30"/>
<path d="M115.37 359.09V426.71"/>
<path d="M119.42 398.86V449.37"/>
<path d="M123.48 399.40V449.67"/>
<path d="M127.53 394.56V446.92"/>
<path d="M131.59 396.18V447.83"/>
<path d="M135.64 386.86V442.53"/>
<path d="M139.69 388.20V443.29"/>
<path d="M143.75 370.92V433.45"/>
<path d="M147.80 393.49V446.30"/>
<path d="M151.86 396.71V448.14"/>
<path d="M155.91 344.40V418.35"/>
<path d="M159.97 359.63V427.02"/>
<path d="M164.02 395.28V447.32"/>
<path d="M168.08 380.23V438.75"/>
<path d="M172.13 400.65V450.39"/>
<path d="M176.19 402.80V451.61"/>
<path d="M180.24 399.40V449.67"/>
<path d="M184.29 395.37V447.38"/>
<path d="M188.35 346.91V419.77"/>
<path d="M192.40 333.66V412.22"/>
<path d="M196.46 328.28V409.16"/>
<path d="M200.51 329.18V409.67"/>
<path d="M204.57 314.49V401.31"/>
<path d="M208.62 313.40V399.88"/>
<path d="M212.68 332.58V411.61"/>
<path d="M216.73 326.49V408.14"/>
<path d="M220.78 313.40V398.04"/>
<path d="M224.84 323.80V406.61"/>
<path d="M228.89 329.18V409.67"/>
<path d="M232.95 313.40V400.29"/>
<path d="M237.00 313.40V394.98"/>
<path d="M241.06 313.40V391.20"/>
<path d="M245.11 313.40V394.06"/>
<path d="M249.17 313.40V396.82"/>
<path d="M253.22 337.85V414.61"/>
<path d="M257.27 327.74V408.86"/>
<path d="M261.33 313.40V397.53"/>
<path d="M265.38 327.74V408.86"/>
<path d="M269.44 327.74V408.86"/>
<path d="M273.49 323.80V406.61"/>
<path d="M277.55 313.40V398.61"/>
<path d="M281.60 323.80V406.61"/>
<path d="M285.66 313.40V398.61"/>
<path d="M289.71 313.40V400.59"/>
<path d="M293.77 343.69V417.94"/>
<path d="M297.82 334.37V412.63"/>
<path d="M301.87 319.33V404.06"/>
<path d="M305.93 349.51V421.25"/>
<path d="M309.98 341.54V416.71"/>
<path d="M314.04 315.92V402.12"/>
<path d="M318.09 331.69V411.10"/>
<path d="M322.15 341.54V416.71"/>
<path d="M326.20 337.06V414.16"/>
<path d="M330.26 342.43V417.22"/>
<path d="M334.31 342.43V417.22"/>
<path d="M338.37 351.09V422.15"/>
<path d="M342.42 331.69V411.10"/>
<path d="M346.47 325.65V407.66"/>
<path d="M350.53 330.97V410.69"/>
<path d="M354.58 347.63V420.18"/>
<path d="M358.64 349.51V421.25"/>
<path d="M362.69 319.86V404.37"/>
<path d="M366.75 313.40V400.12"/>
<path d="M370.80 313.40V396.51"/>
<path d="M374.86 348.52V420.69"/>
<path d="M378.91 346.38V419.47"/>
<path d="M382.96 347.09V419.88"/>
<path d="M387.02 334.37V412.63"/>
<path d="M391.07 333.66V412.22"/>
<path d="M395.13 356.14V425.03"/>
<path d="M399.18 313.40V393.75"/>
<path d="M403.24 313.95V401.00"/>
<path d="M407.29 331.69V411.10"/>
<path d="M411.35 327.21V408.55"/>
<path d="M415.40 325.60V407.63"/>
<path d="M419.45 333.66V412.22"/>
<path d="M423.51 347.63V420.18"/>
<path d="M427.56 368.86V432.27"/>
<path d="M431.62 368.86V432.27"/>
<path d="M435.67 351.62V422.46"/>
<path d="M439.73 337.06V414.16"/>
<path d="M443.78 341.54V416.71"/>
<path d="M447.84 317.71V403.14"/>
<path d="M451.89 317.71V403.14"/>
<path d="M455.95 365.72V430.49"/>
<path d="M460.00 386.14V442.12"/>
<circle cx="54.55" cy="440.35" r="3.1" stroke="none"/>
<circle cx="58.60" cy="440.35" r="3.1" stroke="none"/>
<circle cx="62.66" cy="417.77" r="3.1" stroke="none"/>
<circle cx="66.71" cy="411.69" r="3.1" stroke="none"/>
<circle cx="70.77" cy="409.93" r="3.1" stroke="none"/>
<circle cx="74.82" cy="399.93" r="3.1" stroke="none"/>
<circle cx="78.88" cy="398.98" r="3.1" stroke="none"/>
<circle cx="82.93" cy="398.98" r="3.1" stroke="none"/>
<circle cx="86.99" cy="396.01" r="3.1" stroke="none"/>
<circle cx="91.04" cy="396.41" r="3.1" stroke="none"/>
<circle cx="95.09" cy="398.98" r="3.1" stroke="none"/>
<circle cx="99.15" cy="405.61" r="3.1" stroke="none"/>
<circle cx="103.20" cy="407.36" r="3.1" stroke="none"/>
<circle cx="107.26" cy="411.01" r="3.1" stroke="none"/>
<circle cx="111.31" cy="410.34" r="3.1" stroke="none"/>
<circle cx="115.37" cy="397.63" r="3.1" stroke="none"/>
<circle cx="119.42" cy="427.64" r="3.1" stroke="none"/>
<circle cx="123.48" cy="428.05" r="3.1" stroke="none"/>
<circle cx="127.53" cy="424.40" r="3.1" stroke="none"/>
<circle cx="131.59" cy="425.62" r="3.1" stroke="none"/>
<circle cx="135.64" cy="418.59" r="3.1" stroke="none"/>
<circle cx="139.69" cy="419.60" r="3.1" stroke="none"/>
<circle cx="143.75" cy="406.55" r="3.1" stroke="none"/>
<circle cx="147.80" cy="423.59" r="3.1" stroke="none"/>
<circle cx="151.86" cy="426.02" r="3.1" stroke="none"/>
<circle cx="155.91" cy="386.54" r="3.1" stroke="none"/>
<circle cx="159.97" cy="398.04" r="3.1" stroke="none"/>
<circle cx="164.02" cy="424.94" r="3.1" stroke="none"/>
<circle cx="168.08" cy="413.58" r="3.1" stroke="none"/>
<circle cx="172.13" cy="429.00" r="3.1" stroke="none"/>
<circle cx="176.19" cy="430.62" r="3.1" stroke="none"/>
<circle cx="180.24" cy="428.05" r="3.1" stroke="none"/>
<circle cx="184.29" cy="425.01" r="3.1" stroke="none"/>
<circle cx="188.35" cy="388.44" r="3.1" stroke="none"/>
<circle cx="192.40" cy="378.43" r="3.1" stroke="none"/>
<circle cx="196.46" cy="374.38" r="3.1" stroke="none"/>
<circle cx="200.51" cy="375.05" r="3.1" stroke="none"/>
<circle cx="204.57" cy="363.96" r="3.1" stroke="none"/>
<circle cx="208.62" cy="362.07" r="3.1" stroke="none"/>
<circle cx="212.68" cy="377.62" r="3.1" stroke="none"/>
<circle cx="216.73" cy="373.02" r="3.1" stroke="none"/>
<circle cx="220.78" cy="359.64" r="3.1" stroke="none"/>
<circle cx="224.84" cy="371.00" r="3.1" stroke="none"/>
<circle cx="228.89" cy="375.05" r="3.1" stroke="none"/>
<circle cx="232.95" cy="362.61" r="3.1" stroke="none"/>
<circle cx="237.00" cy="355.58" r="3.1" stroke="none"/>
<circle cx="241.06" cy="350.58" r="3.1" stroke="none"/>
<circle cx="245.11" cy="354.37" r="3.1" stroke="none"/>
<circle cx="249.17" cy="358.02" r="3.1" stroke="none"/>
<circle cx="253.22" cy="381.59" r="3.1" stroke="none"/>
<circle cx="257.27" cy="373.97" r="3.1" stroke="none"/>
<circle cx="261.33" cy="358.96" r="3.1" stroke="none"/>
<circle cx="265.38" cy="373.97" r="3.1" stroke="none"/>
<circle cx="269.44" cy="373.97" r="3.1" stroke="none"/>
<circle cx="273.49" cy="371.00" r="3.1" stroke="none"/>
<circle cx="277.55" cy="360.40" r="3.1" stroke="none"/>
<circle cx="281.60" cy="371.00" r="3.1" stroke="none"/>
<circle cx="285.66" cy="360.40" r="3.1" stroke="none"/>
<circle cx="289.71" cy="363.02" r="3.1" stroke="none"/>
<circle cx="293.77" cy="386.00" r="3.1" stroke="none"/>
<circle cx="297.82" cy="378.97" r="3.1" stroke="none"/>
<circle cx="301.87" cy="367.62" r="3.1" stroke="none"/>
<circle cx="305.93" cy="390.40" r="3.1" stroke="none"/>
<circle cx="309.98" cy="384.38" r="3.1" stroke="none"/>
<circle cx="314.04" cy="365.05" r="3.1" stroke="none"/>
<circle cx="318.09" cy="376.94" r="3.1" stroke="none"/>
<circle cx="322.15" cy="384.38" r="3.1" stroke="none"/>
<circle cx="326.20" cy="381.00" r="3.1" stroke="none"/>
<circle cx="330.26" cy="385.06" r="3.1" stroke="none"/>
<circle cx="334.31" cy="385.06" r="3.1" stroke="none"/>
<circle cx="338.37" cy="391.59" r="3.1" stroke="none"/>
<circle cx="342.42" cy="376.94" r="3.1" stroke="none"/>
<circle cx="346.47" cy="372.39" r="3.1" stroke="none"/>
<circle cx="350.53" cy="376.40" r="3.1" stroke="none"/>
<circle cx="354.58" cy="388.98" r="3.1" stroke="none"/>
<circle cx="358.64" cy="390.40" r="3.1" stroke="none"/>
<circle cx="362.69" cy="368.02" r="3.1" stroke="none"/>
<circle cx="366.75" cy="362.40" r="3.1" stroke="none"/>
<circle cx="370.80" cy="357.61" r="3.1" stroke="none"/>
<circle cx="374.86" cy="389.65" r="3.1" stroke="none"/>
<circle cx="378.91" cy="388.03" r="3.1" stroke="none"/>
<circle cx="382.96" cy="388.57" r="3.1" stroke="none"/>
<circle cx="387.02" cy="378.97" r="3.1" stroke="none"/>
<circle cx="391.07" cy="378.43" r="3.1" stroke="none"/>
<circle cx="395.13" cy="395.40" r="3.1" stroke="none"/>
<circle cx="399.18" cy="353.96" r="3.1" stroke="none"/>
<circle cx="403.24" cy="363.56" r="3.1" stroke="none"/>
<circle cx="407.29" cy="376.94" r="3.1" stroke="none"/>
<circle cx="411.35" cy="373.56" r="3.1" stroke="none"/>
<circle cx="415.40" cy="372.35" r="3.1" stroke="none"/>
<circle cx="419.45" cy="378.43" r="3.1" stroke="none"/>
<circle cx="423.51" cy="388.98" r="3.1" stroke="none"/>
<circle cx="427.56" cy="405.00" r="3.1" stroke="none"/>
<circle cx="431.62" cy="405.00" r="3.1" stroke="none"/>
<circle cx="435.67" cy="391.99" r="3.1" stroke="none"/>
<circle cx="439.73" cy="381.00" r="3.1" stroke="none"/>
<circle cx="443.78" cy="384.38" r="3.1" stroke="none"/>
<circle cx="447.84" cy="366.40" r="3.1" stroke="none"/>
<circle cx="451.89" cy="366.40" r="3.1" stroke="none"/>
<circle cx="455.95" cy="402.63" r="3.1" stroke="none"/>
<circle cx="460.00" cy="418.04" r="3.1" stroke="none"/>
</g>
</g>
<path d="M54.55 516.6v7M54.55 313.4v-7" stroke="#000" stroke-width="1"/>
<path d="M70.77 516.6v4.0M70.77 313.4v-4.0" stroke="#000" stroke-width="1"/>
<path d="M86.99 516.6v4.0M86.99 313.4v-4.0" stroke="#000" stroke-width="1"/>
<path d="M103.20 516.6v4.0M103.20 313.4v-4.0" stroke="#000" stroke-width="1"/>
<path d="M119.42 516.6v4.0M119.42 313.4v-4.0" stroke="#000" stroke-width="1"/>
<path d="M135.64 516.6v7M135.64 313.4v-7" stroke="#000" stroke-width="1"/>
<path d="M151.86 516.6v4.0M151.86 313.4v-4.0" stroke="#000" stroke-width="1"/>
<path d="M168.08 516.6v4.0M168.08 313.4v-4.0" stroke="#000" stroke-width="1"/>
<path d="M184.29 516.6v4.0M184.29 313.4v-4.0" stroke="#000" stroke-width="1"/>
<path d="M200.51 516.6v4.0M200.51 313.4v-4.0" stroke="#000" stroke-width="1"/>
<path d="M216.73 516.6v7M216.73 313.4v-7" stroke="#000" stroke-width="1"/>
<path d="M232.95 516.6v4.0M232.95 313.4v-4.0" stroke="#000" stroke-width="1"/>
<path d="M249.17 516.6v4.0M249.17 313.4v-4.0" stroke="#000" stroke-width="1"/>
<path d="M265.38 516.6v4.0M265.38 313.4v-4.0" stroke="#000" stroke-width="1"/>
<path d="M281.60 516.6v4.0M281.60 313.4v-4.0" stroke="#000" stroke-width="1"/>
<path d="M297.82 516.6v7M297.82 313.4v-7" stroke="#000" stroke-width="1"/>
<path d="M314.04 516.6v4.0M314.04 313.4v-4.0" stroke="#000" stroke-width="1"/>
<path d="M330.26 516.6v4.0M330.26 313.4v-4.0" stroke="#000" stroke-width="1"/>
<path d="M346.47 516.6v4.0M346.47 313.4v-4.0" stroke="#000" stroke-width="1"/>
<path d="M362.69 516.6v4.0M362.69 313.4v-4.0" stroke="#000" stroke-width="1"/>
<path d="M378.91 516.6v7M378.91 313.4v-7" stroke="#000" stroke-width="1"/>
<path d="M395.13 516.6v4.0M395.13 313.4v-4.0" stroke="#000" stroke-width="1"/>
<path d="M411.35 516.6v4.0M411.35 313.4v-4.0" stroke="#000" stroke-width="1"/>
<path d="M427.56 516.6v4.0M427.56 313.4v-4.0" stroke="#000" stroke-width="1"/>
<path d="M443.78 516.6v4.0M443.78 313.4v-4.0" stroke="#000" stroke-width="1"/>
<path d="M460.00 516.6v7M460.00 313.4v-7" stroke="#000" stroke-width="1"/>
<path d="M53.75 503.05h-4M461.0 503.05h4" stroke="#000" stroke-width="1"/>
<path d="M53.75 489.51h-4M461.0 489.51h4" stroke="#000" stroke-width="1"/>
<path d="M53.75 475.96h-4M461.0 475.96h4" stroke="#000" stroke-width="1"/>
<path d="M53.75 462.41h-4M461.0 462.41h4" stroke="#000" stroke-width="1"/>
<path d="M53.75 435.32h-4M461.0 435.32h4" stroke="#000" stroke-width="1"/>
<path d="M53.75 421.77h-4M461.0 421.77h4" stroke="#000" stroke-width="1"/>
<path d="M53.75 408.23h-4M461.0 408.23h4" stroke="#000" stroke-width="1"/>
<path d="M53.75 394.68h-4M461.0 394.68h4" stroke="#000" stroke-width="1"/>
<path d="M53.75 367.59h-4M461.0 367.59h4" stroke="#000" stroke-width="1"/>
<path d="M53.75 354.04h-4M461.0 354.04h4" stroke="#000" stroke-width="1"/>
<path d="M53.75 340.49h-4M461.0 340.49h4" stroke="#000" stroke-width="1"/>
<path d="M53.75 326.95h-4M461.0 326.95h4" stroke="#000" stroke-width="1"/>
<path d="M53.75 516.60h-7M461.0 516.60h7" stroke="#000" stroke-width="1"/>
<text x="44.15" y="522.70" font-size="16.6" text-anchor="end">0.0</text>
<path d="M53.75 448.87h-7M461.0 448.87h7" stroke="#000" stroke-width="1"/>
<text x="44.15" y="454.97" font-size="16.6" text-anchor="end">0.5</text>
<path d="M53.75 381.13h-7M461.0 381.13h7" stroke="#000" stroke-width="1"/>
<text x="44.15" y="387.23" font-size="16.6" text-anchor="end">1.0</text>
<path d="M53.75 313.40h-7M461.0 313.40h7" stroke="#000" stroke-width="1"/>
<text x="44.15" y="319.50" font-size="16.6" text-anchor="end">1.5</text>
<text x="54.60" y="538.60" font-size="16.6" text-anchor="middle">0</text>
<text x="136.09" y="538.60" font-size="16.6" text-anchor="middle">300</text>
<text x="217.59" y="538.60" font-size="16.6" text-anchor="middle">600</text>
<text x="299.08" y="538.60" font-size="16.6" text-anchor="middle">900</text>
<text x="380.58" y="538.60" font-size="16.6" text-anchor="middle">1200</text>
<text x="462.07" y="538.60" font-size="16.6" text-anchor="middle">1500</text>
<rect x="53.75" y="313.4" width="407.25" height="203.20000000000005" fill="none" stroke="#000" stroke-width="1.6"/>
<path d="M168.08 313.4V516.6" stroke="#e8352a" stroke-width="1.5" stroke-dasharray="8.3 3" fill="none"/>
<text x="53.2" y="304.0" font-size="19.2" font-weight="bold">(b)</text>
<text x="268.2" y="560.40" font-size="16.8" text-anchor="middle">Seconds after 2015/09/27 11:45:00</text>
<text transform="translate(14.2 410.4) rotate(-90)" font-size="16.7" text-anchor="middle">RMS amplitude ratio</text>
<circle cx="478" cy="415" r="3.2" fill="#000000"/>
<text x="495.4" y="421.5" font-size="16.0">V.ONTA</text>
<circle cx="478" cy="432.3" r="3.2" fill="#e8352a"/>
<text x="495.4" y="438.8" font-size="16.0">V.ONTN</text>
<circle cx="478" cy="448.9" r="3.2" fill="#2a6a35"/>
<text x="495.4" y="455.4" font-size="16.0">NU.NGR1</text>
<circle cx="478" cy="466.1" r="3.2" fill="#2b4fb0"/>
<text x="495.4" y="472.6" font-size="16.0">NU.KID1</text>
<circle cx="478" cy="483.0" r="3.2" fill="#959595"/>
<text x="495.4" y="489.5" font-size="16.0">ROPW</text>
</g>
</svg>
</body></html>
